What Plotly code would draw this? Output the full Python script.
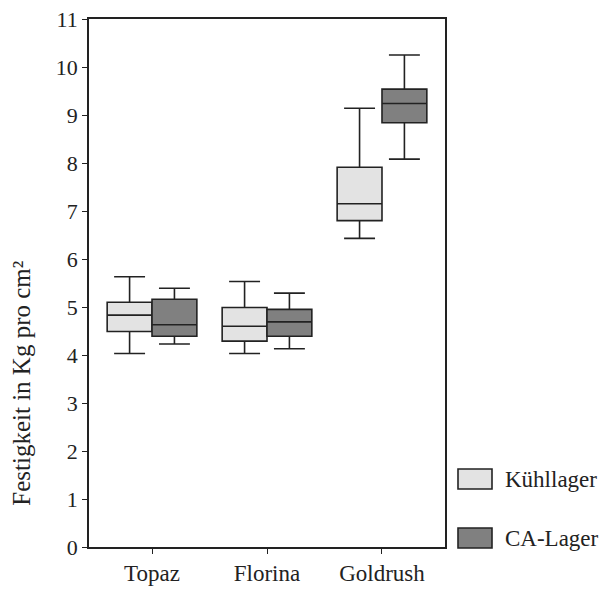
import plotly.graph_objects as go

categories = ["Topaz", "Florina", "Goldrush"]
series_names = ["Kühllager", "CA-Lager"]

kuehl_lower = [4.03, 4.03, 6.43]
kuehl_q1 = [4.49, 4.29, 6.80]
kuehl_median = [4.83, 4.60, 7.15]
kuehl_q3 = [5.10, 4.99, 7.91]
kuehl_upper = [5.63, 5.53, 9.14]

ca_lower = [4.23, 4.13, 8.08]
ca_q1 = [4.39, 4.39, 8.84]
ca_median = [4.63, 4.69, 9.24]
ca_q3 = [5.16, 4.95, 9.54]
ca_upper = [5.39, 5.29, 10.25]

y_ticks = list(range(0, 12))

colors = ["#e3e3e3", "#808080"]
line_color = "#222222"
font_family = "Liberation Serif, Times New Roman, serif"

fig = go.Figure()
data = [
    (kuehl_lower, kuehl_q1, kuehl_median, kuehl_q3, kuehl_upper),
    (ca_lower, ca_q1, ca_median, ca_q3, ca_upper),
]
for name, col, (lo, q1, med, q3, up) in zip(series_names, colors, data):
    fig.add_trace(go.Box(
        name=name,
        x=categories,
        lowerfence=lo, q1=q1, median=med, q3=q3, upperfence=up,
        fillcolor=col,
        line=dict(color=line_color, width=1.6),
        whiskerwidth=0.69,
        boxpoints=False,
        showlegend=False,
        hoverinfo="skip",
    ))

fig.update_layout(
    width=600, height=590,
    margin=dict(l=89, r=155, t=19, b=43),
    paper_bgcolor="white", plot_bgcolor="white",
    boxmode="group", boxgap=0.22, boxgroupgap=0,
    font=dict(family=font_family, size=22, color="#222222"),
    showlegend=False,
)
fig.update_xaxes(
    type="category", range=[-0.548, 2.548], automargin=False,
    showline=True, linecolor=line_color, linewidth=1.6, mirror=True,
    ticks="outside", ticklen=5, tickwidth=1.4, tickcolor=line_color,
    showgrid=False, zeroline=False,
    tickfont=dict(size=23),
)
fig.update_yaxes(
    range=[0, 11], tickvals=y_ticks, automargin=False,
    showline=True, linecolor=line_color, linewidth=1.6, mirror=True,
    ticks="outside", ticklen=5, tickwidth=1.4, tickcolor=line_color,
    showgrid=False, zeroline=False,
    tickfont=dict(size=22),
)

# y-axis title
fig.add_annotation(
    text="Festigkeit in Kg pro cm²", textangle=-90,
    xref="paper", yref="paper", x=-0.19, y=0.31,
    xanchor="center", yanchor="middle", showarrow=False,
    font=dict(size=25),
)

# legend drawn manually
leg_y = [479, 538]
for name, col, yc in zip(series_names, colors, leg_y):
    fig.add_shape(
        type="rect", xref="paper", yref="paper",
        x0=(458 - 89) / 356, x1=(492 - 89) / 356,
        y0=(547 - (yc + 10)) / 528, y1=(547 - (yc - 10)) / 528,
        fillcolor=col, line=dict(color=line_color, width=1.6),
    )
    fig.add_annotation(
        text=name, xref="paper", yref="paper",
        x=(503 - 89) / 356, y=(547 - yc) / 528,
        xanchor="left", yanchor="middle", showarrow=False,
        font=dict(size=23),
    )

fig.write_html("out.html")
